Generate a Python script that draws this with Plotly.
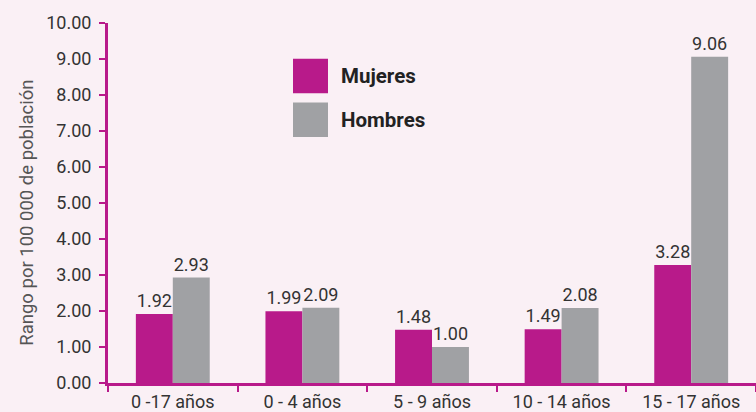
import plotly.graph_objects as go

# Tasa por 100 000 habitantes, por grupo de edad y sexo
categorias = ["0 -17 años", "0 - 4 años", "5 - 9 años", "10 - 14 años", "15 - 17 años"]
mujeres = [1.92, 1.99, 1.48, 1.49, 3.28]
hombres = [2.93, 2.09, 1.00, 2.08, 9.06]
y_ticks = [0, 1, 2, 3, 4, 5, 6, 7, 8, 9, 10]

MAGENTA = "#B81A8A"
GRIS = "#A0A1A4"
FONDO = "#FAF0F5"
TEXTO = "#333333"
FUENTE = "Roboto, Lato, sans-serif"

fig = go.Figure()
for nombre, valores, color in [("Mujeres", mujeres, MAGENTA), ("Hombres", hombres, GRIS)]:
    fig.add_trace(go.Bar(
        name=nombre, x=categorias, y=valores, marker_color=color,
        marker_line_width=0,
        text=[f"{v:.2f}" for v in valores], textposition="outside",
        textfont=dict(size=18, color=TEXTO, family=FUENTE),
        cliponaxis=False,
    ))

fig.update_layout(
    width=756, height=412,
    margin=dict(l=108, r=0, t=23, b=26),
    paper_bgcolor=FONDO, plot_bgcolor=FONDO,
    barmode="group", bargap=0.43, bargroupgap=0,
    showlegend=False,
    font=dict(family=FUENTE, color=TEXTO),
)

fig.update_xaxes(
    showline=True, linecolor=MAGENTA, linewidth=3,
    ticks="outside", tickson="boundaries", ticklen=6, tickwidth=2, tickcolor=MAGENTA,
    tickfont=dict(size=18, color=TEXTO, family=FUENTE),
    showgrid=False, zeroline=False,
)
fig.update_yaxes(
    range=[0, 10], tickvals=y_ticks, ticktext=[f"{v:.2f}" for v in y_ticks],
    showline=True, linecolor=MAGENTA, linewidth=3,
    ticks="outside", ticklen=6, tickwidth=2, tickcolor=MAGENTA,
    tickfont=dict(size=18, color=TEXTO, family=FUENTE),
    ticklabelstandoff=4,
    showgrid=False, zeroline=False,
)

# Título del eje vertical
fig.add_annotation(
    text="Rango por 100 000 de población", textangle=-90,
    xref="paper", yref="paper", x=-0.125, y=0.473,
    xanchor="center", yanchor="middle",
    showarrow=False, font=dict(size=18.5, color="#555555", family=FUENTE),
)

# Leyenda con cuadros grandes
leyenda = [("Mujeres", MAGENTA, 0.8526), ("Hombres", GRIS, 0.7314)]
for nombre, color, yc in leyenda:
    fig.add_shape(type="rect", xref="paper", yref="paper",
                  x0=0.2855, x1=0.3395, y0=yc - 0.048, y1=yc + 0.048,
                  fillcolor=color, line_width=0)
    fig.add_annotation(text=f"<b>{nombre}</b>", xref="paper", yref="paper",
                       x=0.356, y=yc, xanchor="left", yanchor="middle",
                       showarrow=False,
                       font=dict(size=20.5, color="#222222", family=FUENTE))

fig.write_html("out.html")
